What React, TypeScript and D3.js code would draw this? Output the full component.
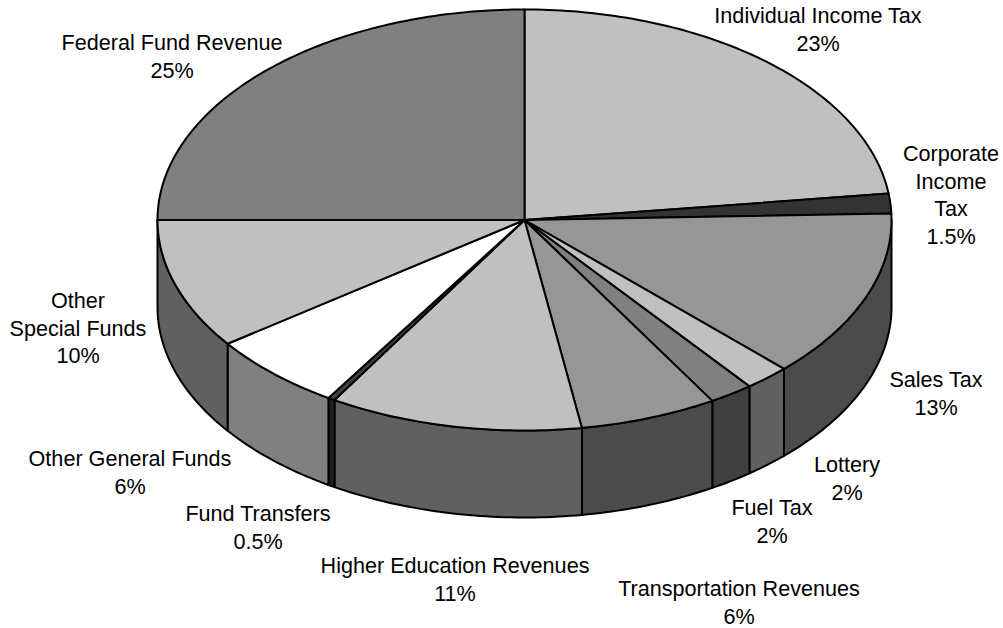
import * as d3 from "d3";

const W = 1003;
const H = 628;

const names = [
  "Individual Income Tax",
  "Corporate Income Tax",
  "Sales Tax",
  "Lottery",
  "Fuel Tax",
  "Transportation Revenues",
  "Higher Education Revenues",
  "Fund Transfers",
  "Other General Funds",
  "Other Special Funds",
  "Federal Fund Revenue",
];
// slice sizes as drawn in the picture, the printed labels are rounded
const shares = [23, 1.5, 13, 2, 1.95, 6.05, 11.16, 0.31, 6.03, 10, 25];
const shareLabels = ["23%", "1.5%", "13%", "2%", "2%", "6%", "11%", "0.5%", "6%", "10%", "25%"];
const topColors = ["#c0c0c0", "#333333", "#969696", "#c0c0c0", "#808080", "#969696", "#c0c0c0", "#404040", "#ffffff", "#c0c0c0", "#808080"];
const sideColors = ["#606060", "#1a1a1a", "#4b4b4b", "#606060", "#404040", "#4b4b4b", "#606060", "#202020", "#808080", "#606060", "#404040"];

// label text split in lines, with the centre x and first baseline y
const labelLines = [
  ["Individual Income Tax"],
  ["Corporate", "Income", "Tax"],
  ["Sales Tax"],
  ["Lottery"],
  ["Fuel Tax"],
  ["Transportation Revenues"],
  ["Higher Education Revenues"],
  ["Fund Transfers"],
  ["Other General Funds"],
  ["Other", "Special Funds"],
  ["Federal Fund Revenue"],
];
const labelX = [818, 951, 936, 847, 772, 739, 455, 258, 130, 78, 172];
const labelY = [23, 161, 387, 472, 515, 596, 573, 521, 466, 308, 50];
const LINE_STEP = 27.7;

const cx = d3.scaleLinear().domain([-1, 1]).range([157.5, 891.5]);
const cy = d3.scaleLinear().domain([-1, 1]).range([9.5, 430.5]);
const DEPTH = 87;

const px = (a: number) => cx(Math.sin(a));
const py = (a: number) => cy(-Math.cos(a));
const line = d3.line<[number, number]>();

// points along the rim between two angles
const rim = (a0: number, a1: number, dy = 0): [number, number][] => {
  const n = Math.max(2, Math.ceil((a1 - a0) * 60));
  return d3.range(n + 1).map((i) => {
    const a = a0 + ((a1 - a0) * i) / n;
    return [px(a), py(a) + dy] as [number, number];
  });
};

export default function App() {
  const arcs = d3.pie<number>().sort(null)(shares);
  const rows = arcs.map((a, i) => ({ ...a, i }));
  const front = (a: number) => Math.max(Math.min(a, (3 * Math.PI) / 2), Math.PI / 2);

  return (
    <svg
      width={W}
      height={H}
      style={{ position: "absolute", left: 0, top: 0, background: "#fff" }}
      fontFamily="'Liberation Sans', Arial, sans-serif"
      fontSize={21.6}
    >
      {/* sides first, only the part of the rim that faces the viewer */}
      {rows.map((d) => {
        const a0 = front(d.startAngle);
        const a1 = front(d.endAngle);
        if (a1 - a0 <= 0) return null;
        const path = line([...rim(a0, a1), ...rim(a0, a1, DEPTH).reverse()]) + "Z";
        return (
          <path key={"s" + d.i} d={path} fill={sideColors[d.i]} stroke="#000" strokeWidth={2} strokeLinejoin="round" />
        );
      })}
      {rows.map((d) => {
        const pts: [number, number][] = [[cx(0), cy(0)], ...rim(d.startAngle, d.endAngle)];
        return (
          <path key={"t" + d.i} d={line(pts) + "Z"} fill={topColors[d.i]} stroke="#000" strokeWidth={2} strokeLinejoin="round">
            <title>{names[d.i]}</title>
          </path>
        );
      })}
      {rows.map((d) => (
        <text key={"l" + d.i} textAnchor="middle" fill="#000">
          {[...labelLines[d.i], shareLabels[d.i]].map((t, j) => (
            <tspan key={j} x={labelX[d.i]} y={labelY[d.i] + j * LINE_STEP}>
              {t}
            </tspan>
          ))}
        </text>
      ))}
    </svg>
  );
}
